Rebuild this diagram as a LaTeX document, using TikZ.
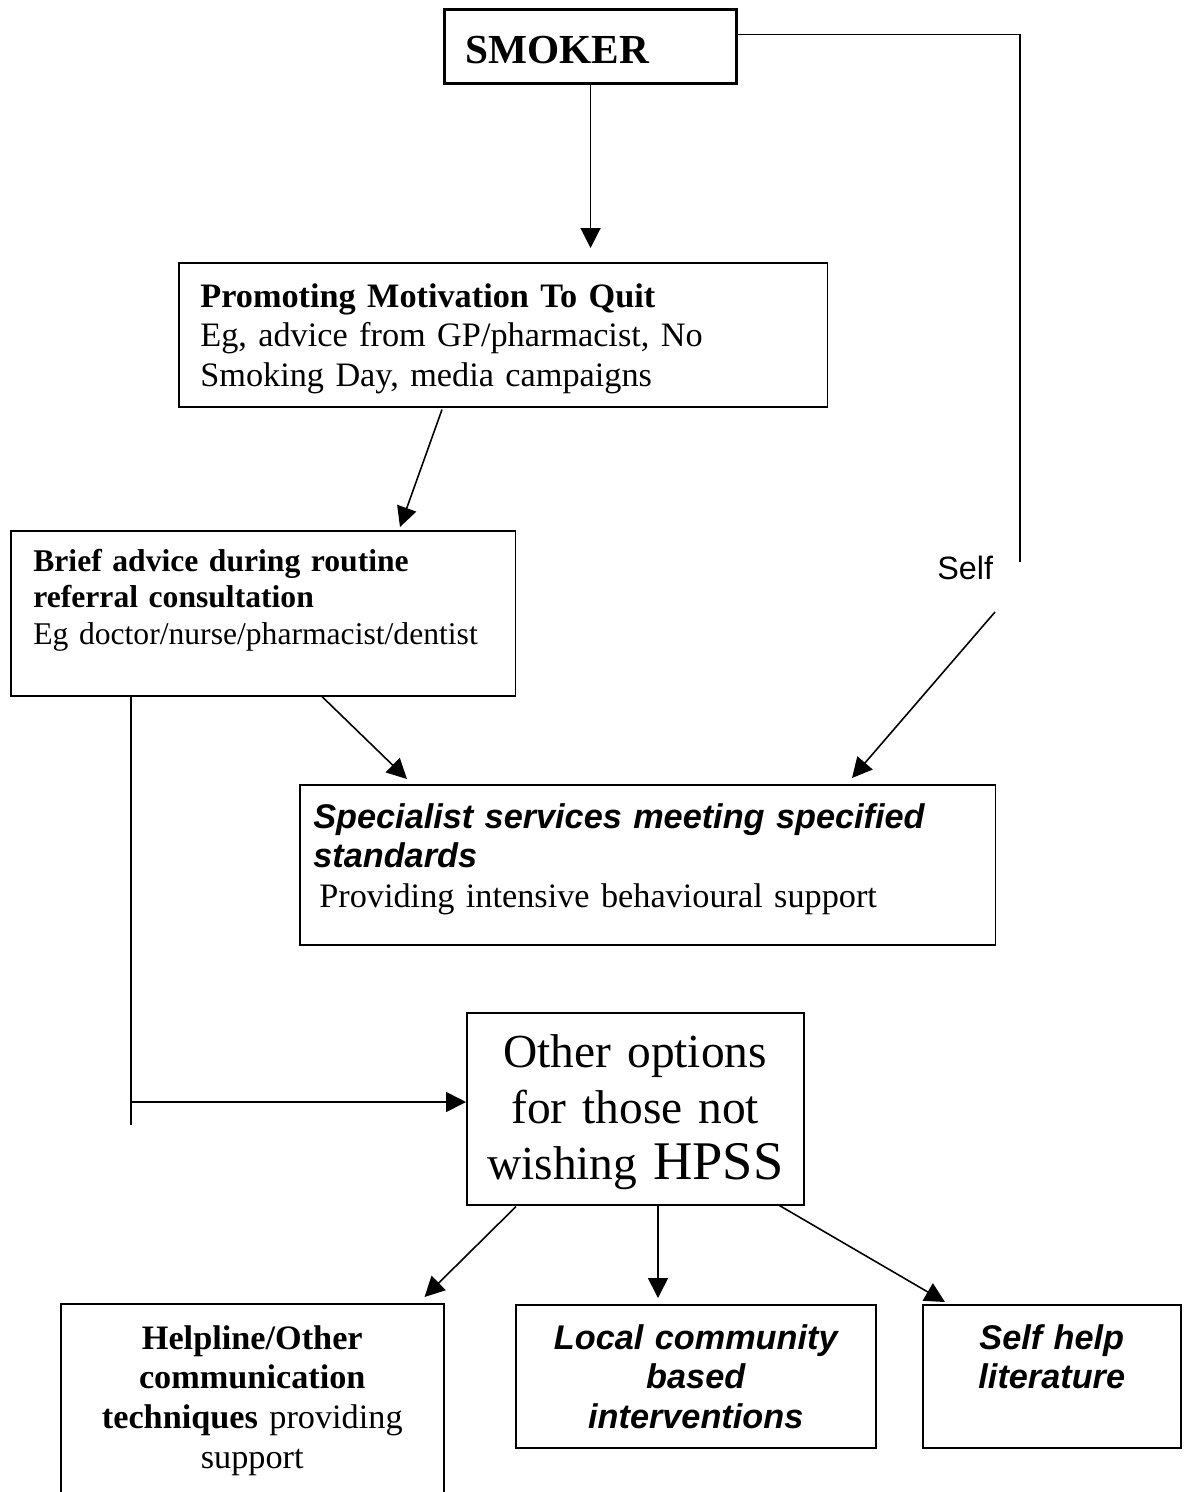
\documentclass[tikz,border=0pt]{standalone}
\usepackage{fontspec}
\setmainfont{Liberation Serif}
\setsansfont{Liberation Sans}
\usetikzlibrary{arrows.meta,positioning}

\begin{document}
\begin{tikzpicture}[x=0.02cm,y=-0.02cm,
		box/.style={draw, line width=0.9pt, inner sep=0pt, anchor=north west},
		txt/.style={inner sep=0pt, align=left, font=\fontsize{19.5}{22.7}\selectfont},
		arr/.style={line width=0.9pt, -{Triangle[length=0.4cm,width=0.4cm]}}]
	\useasboundingbox (0,0) rectangle (1188,1492);
	%---------------- SMOKER ----------------
	\node[box, line width=1.8pt, minimum width=5.84cm, minimum height=1.48cm] (smoker) at (443,8) {};
	\node[txt, anchor=base west, font=\fontsize{23.5}{28}\selectfont\bfseries] (smoker-txt) at ([shift={(22,55)}]smoker.north west) {SMOKER};
	%---------------- PROMOTING ----------------
	\node[box, minimum width=12.98cm, minimum height=2.88cm] (promo) at (178,262) {};
	\node[txt, anchor=base west, text width=12cm] (promo-txt) at ([shift={(22,45)}]promo.north west)
		{\textbf{Promoting Motivation To Quit}\\Eg, advice from GP/pharmacist, No\\Smoking Day, media campaigns};
	%---------------- BRIEF ADVICE ----------------
	\node[box, minimum width=10.10cm, minimum height=3.30cm] (brief) at (10,530) {};
	\node[txt, anchor=base west, text width=9.6cm, font=\fontsize{18}{21}\selectfont] (brief-txt) at ([shift={(23,41)}]brief.north west)
		{\textbf{Brief advice during routine}\\\textbf{referral consultation}\\Eg doctor/nurse/pharmacist/dentist};
	%---------------- SPECIALIST ----------------
	\node[box, minimum width=13.92cm, minimum height=3.20cm] (spec) at (299,784) {};
	\node[txt, anchor=base west, text width=13.4cm] (spec-txt) at ([shift={(20,44)}]spec.north west)
		{{\sffamily\bfseries\itshape\hspace*{-0.12cm}Specialist services meeting specified\\\hspace*{-0.12cm}standards}\\Providing intensive behavioural support};
	%---------------- SELF ----------------
	\node[anchor=base west, inner sep=0pt, font=\sffamily\fontsize{18.4}{22}\selectfont] (self) at (937,579) {Self};
	\coordinate (self-top) at (1020,562);
	\coordinate (self-bot) at (995,612);
	%---------------- OTHER OPTIONS ----------------
	\node[box, minimum width=6.74cm, minimum height=3.84cm] (other) at (466,1012) {};
	\node[txt, anchor=base, align=center, text width=6.5cm, font=\fontsize{27}{32}\selectfont] (other-txt) at ([shift={(0,55)}]other.north)
		{Other options\\for those not\\wishing {\fontsize{31}{32}\selectfont HPSS}};
	\coordinate (bend) at (131,1102);
	\coordinate (bend-end) at (131,1125);
	%---------------- BOTTOM ROW ----------------
	\node[box, minimum width=7.66cm, minimum height=3.94cm] (help) at (60,1303) {};
	\node[txt, anchor=base, align=center, text width=7.4cm] (help-txt) at ([shift={(0,46)}]help.north)
		{\textbf{Helpline/Other}\\\textbf{communication}\\\textbf{techniques} providing\\support};
	\node[box, minimum width=7.20cm, minimum height=2.86cm] (local) at (515,1304) {};
	\node[txt, anchor=base, align=center, text width=7cm] (local-txt) at ([shift={(0,45)}]local.north)
		{\sffamily\bfseries\itshape Local community\\based\\interventions};
	\node[box, minimum width=5.16cm, minimum height=2.86cm] (selfhelp) at (922,1304) {};
	\node[txt, anchor=base, align=center, text width=5cm] (selfhelp-txt) at ([shift={(0,45)}]selfhelp.north)
		{\sffamily\bfseries\itshape Self help\\literature};
	%---------------- ARROWS ----------------
	\draw[arr] (smoker.south) -- ([yshift=0.28cm]smoker.south |- promo.north);
	\draw[line width=0.9pt] ([yshift=0.24cm]smoker.east) -| (self-top);
	\draw[arr] (self-bot) -- ([shift={(553,-6)}]spec.north west);
	\draw[arr] ([shift={(264,2)}]promo.south west) -- ([shift={(390,-3)}]brief.north west);
	\draw[arr] ([shift={(312,0)}]brief.south west) -- ([shift={(108,-5)}]spec.north west);
	\draw[line width=0.9pt] ([shift={(121,0)}]brief.south west) -- (bend-end);
	\draw[arr] (bend) -- (bend -| other.west);
	\draw[arr] ([shift={(50,1)}]other.south west) -- ([shift={(-20,-6)}]help.north east);
	\draw[arr] ([shift={(192,0)}]other.south west) -- ([shift={(143,-6)}]local.north west);
	\draw[arr] ([shift={(-25,0)}]other.south east) -- ([shift={(23,-2)}]selfhelp.north west);
\end{tikzpicture}
\end{document}
